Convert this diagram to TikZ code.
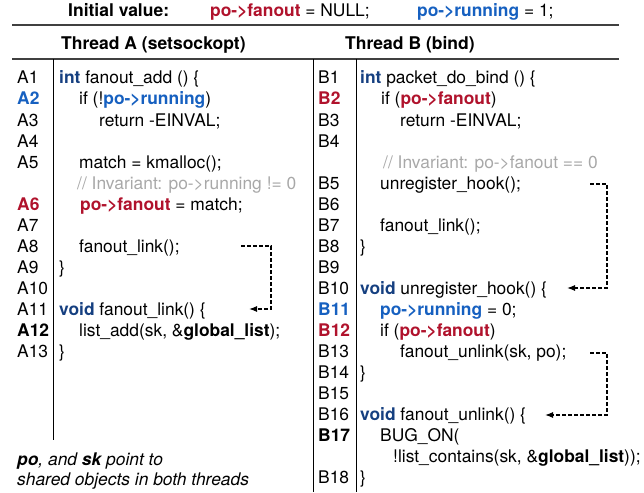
\documentclass[tikz,border=0pt]{standalone}
\usepackage{fontspec}
\setmainfont{TeX Gyre Heros}
\usepackage{xcolor}
\usetikzlibrary{arrows.meta}

\definecolor{fanred}{RGB}{176,18,44}
\definecolor{runblue}{RGB}{22,96,192}
\definecolor{kwblue}{RGB}{21,63,128}
\definecolor{cmtgray}{RGB}{168,168,168}

\newcommand{\pofan}{\textbf{\textcolor{fanred}{po->fanout}}}
\newcommand{\porun}{\textbf{\textcolor{runblue}{po->running}}}
\newcommand{\kw}[1]{\textbf{\textcolor{kwblue}{#1}}}

\begin{document}
\begin{tikzpicture}[
    x=1pt, y=-1pt,
    every node/.style={inner sep=0pt, anchor=base west,
                       font=\fontsize{17.4}{21}\selectfont},
    headtxt/.style={font=\fontsize{17.5}{21}\selectfont\bfseries},
    hot/.style={font=\fontsize{17.4}{21}\selectfont\bfseries},
    hotred/.style={hot, text=fanred},
    hotblue/.style={hot, text=runblue},
    cmt/.style={text=cmtgray},
    note/.style={font=\fontsize{17.4}{21}\selectfont\itshape},
    hline/.style={line width=1.5pt, draw=black!75},
    divider/.style={line width=1pt},
    flow/.style={-{Latex[length=8pt,width=6pt]}, line width=1.2pt,
                 dash pattern=on 4pt off 2pt}
]
    \useasboundingbox (0,0) rectangle (644,492);

    % header
    \node[headtxt] (init) at (68,17) {Initial value:};
    \node (initfan) at (210,17) {\pofan{} = NULL;};
    \node (initrun) at (417,17) {\porun{} = 1;};
    \draw[hline] (12,25) -- (619,25);
    \node[headtxt] (thrA) at (61,50) {Thread A (setsockopt)};
    \node[headtxt] (thrB) at (345,50) {Thread B (bind)};
    \draw[hline] (12,59) -- (619,59);

    % column rules
    \draw[divider] (53,59) -- (53,440);
    \draw[divider] (313,59) -- (313,492);
    \draw[divider] (356,59) -- (356,492);

    % thread A
    \node (a1) at (17,84) {A1};
    \node (codeA1) at (59,84) {\kw{int} fanout\_add () \{};
    \node[hotblue] (a2) at (17,105) {A2};
    \node (codeA2) at (79,105) {if (!\porun)};
    \node (a3) at (17,126) {A3};
    \node (codeA3) at (99,126) {return -EINVAL;};
    \node (a4) at (17,147) {A4};
    \node (a5) at (17,168) {A5};
    \node (codeA5) at (79,168) {match = kmalloc();};
    \node[cmt] (cmtA) at (77,189) {// Invariant: po->running != 0};
    \node[hotred] (a6) at (17,210) {A6};
    \node (codeA6) at (80,210) {\pofan{} = match;};
    \node (a7) at (17,231) {A7};
    \node (a8) at (17,252) {A8};
    \node (codeA8) at (79,252) {fanout\_link();};
    \node (a9) at (17,273) {A9};
    \node (codeA9) at (59,273) {\}};
    \node (a10) at (17,294) {A10};
    \node (a11) at (17,315) {A11};
    \node (codeA11) at (59,315) {\kw{void} fanout\_link() \{};
    \node[hot] (a12) at (17,336) {A12};
    \node (codeA12) at (79,336) {list\_add(sk, \&\textbf{global\_list});};
    \node (a13) at (17,357) {A13};
    \node (codeA13) at (59,357) {\}};

    \node[note] (note1) at (17,465) {\textbf{po}, and \textbf{sk} point to};
    \node[note] (note2) at (17,485) {shared objects in both threads};

    % thread B
    \node (b1) at (318,84) {B1};
    \node (codeB1) at (360,84) {\kw{int} packet\_do\_bind () \{};
    \node[hotred] (b2) at (318,105) {B2};
    \node (codeB2) at (381,105) {if (\pofan)};
    \node (b3) at (318,126) {B3};
    \node (codeB3) at (400,126) {return -EINVAL;};
    \node (b4) at (318,147) {B4};
    \node[cmt] (cmtB) at (383,168) {// Invariant: po->fanout == 0};
    \node (b5) at (318,189) {B5};
    \node (codeB5) at (380,189) {unregister\_hook();};
    \node (b6) at (318,210) {B6};
    \node (b7) at (318,231) {B7};
    \node (codeB7) at (380,231) {fanout\_link();};
    \node (b8) at (318,252) {B8};
    \node (codeB8) at (360,252) {\}};
    \node (b9) at (318,273) {B9};
    \node (b10) at (318,294) {B10};
    \node (codeB10) at (360,294) {\kw{void} unregister\_hook() \{};
    \node[hotblue] (b11) at (318,315) {B11};
    \node (codeB11) at (380,315) {\porun{} = 0;};
    \node[hotred] (b12) at (318,336) {B12};
    \node (codeB12) at (380,336) {if (\pofan)};
    \node (b13) at (318,357) {B13};
    \node (codeB13) at (400,357) {fanout\_unlink(sk, po);};
    \node (b14) at (318,378) {B14};
    \node (codeB14) at (360,378) {\}};
    \node (b15) at (318,399) {B15};
    \node (b16) at (318,420) {B16};
    \node (codeB16) at (360,420) {\kw{void} fanout\_unlink() \{};
    \node[hot] (b17) at (318,441) {B17};
    \node (codeB17) at (380,441) {BUG\_ON(};
    \node (codeB17b) at (393,462) {!list\_contains(sk, \&\textbf{global\_list}));};
    \node (b18) at (318,483) {B18};
    \node (codeB18) at (360,483) {\}};

    % call edges
    \coordinate (callA) at (241,246);
    \coordinate (tipA) at (249,309);
    \coordinate (callB) at (590,184);
    \coordinate (tipB) at (567,288);
    \coordinate (callC) at (590,353);
    \coordinate (tipC) at (545,415);
    \draw[flow] (callA) -- ++(30,0) |- (tipA);
    \draw[flow] (callB) -- ++(17,0) |- (tipB);
    \draw[flow] (callC) -- ++(17,0) |- (tipC);
\end{tikzpicture}
\end{document}
